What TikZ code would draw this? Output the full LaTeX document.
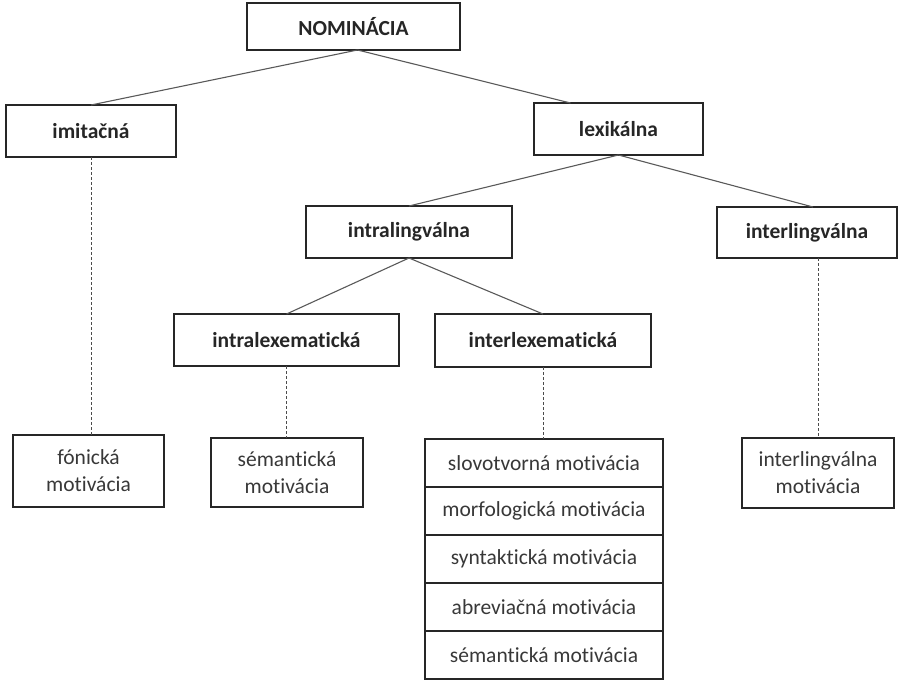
\documentclass[tikz,border=0pt]{standalone}
\usepackage{fontspec}
\setmainfont{Carlito}[Ligatures=NoCommon]
\usetikzlibrary{positioning}

\tikzset{
  catbox/.style={draw=black!85, line width=1.7pt, inner sep=0pt, outer sep=0pt,
    font=\fontsize{21.5}{25}\selectfont\bfseries, text=black!85},
  motbox/.style={draw=black!85, line width=1.7pt, inner sep=0pt, outer sep=0pt, align=center,
    font=\fontsize{21.5}{27}\selectfont, text=black!78},
  branch/.style={draw=black!65, line width=1.1pt},
  dotline/.style={draw=black!70, line width=0.9pt, dash pattern=on 3pt off 2pt},
}

\begin{document}
\begin{tikzpicture}[x=1pt,y=-1pt]
\useasboundingbox (0,0) rectangle (903,680);

% categories
\node[catbox, minimum width=213, minimum height=47] (nom) at (353.5,26.5) {NOMINÁCIA};
\node[catbox, minimum width=170, minimum height=52] (imit) at (91,131) {imitačná};
\node[catbox, minimum width=169, minimum height=52] (lex) at (618.5,129) {lexikálna};
\node[catbox, minimum width=206, minimum height=52] (intraling) at (409,232) {intralingválna};
\node[catbox, minimum width=180, minimum height=51] (interling) at (807,232.5) {interlingválna};
\node[catbox, minimum width=225, minimum height=52] (intralex) at (286.5,340) {intralexematická};
\node[catbox, minimum width=216, minimum height=53] (interlex) at (543,340.5) {interlexematická};

% motivations
\node[motbox, minimum width=151, minimum height=72] (fon) at (88.5,471) {fónická\\motivácia};
\node[motbox, minimum width=152, minimum height=69] (sem) at (287,472.5) {sémantická\\motivácia};
\node[motbox, minimum width=152, minimum height=70] (intmot) at (818,473) {interlingválna\\motivácia};

\node[motbox, minimum width=238, minimum height=48] (mot1) at (544,463) {slovotvorná motivácia};
\node[motbox, minimum width=238, minimum height=48, below=0pt of mot1] (mot2) {morfologická motivácia};
\node[motbox, minimum width=238, minimum height=48, below=0pt of mot2] (mot3) {syntaktická motivácia};
\node[motbox, minimum width=238, minimum height=48, below=0pt of mot3] (mot4) {abreviačná motivácia};
\node[motbox, minimum width=238, minimum height=48, below=0pt of mot4] (mot5) {sémantická motivácia};

% tree
\draw[branch] ([xshift=4]nom.south) -- (imit.north);
\draw[branch] ([xshift=4]nom.south) -- ([xshift=-48]lex.north);
\draw[branch] (lex.south) -- (intraling.north);
\draw[branch] (lex.south) -- ([xshift=6]interling.north);
\draw[branch] (intraling.south) -- (intralex.north);
\draw[branch] (intraling.south) -- (interlex.north);

% dashed links
\draw[dotline] (imit.south) -- (imit.south |- fon.north);
\draw[dotline] (intralex.south) -- (intralex.south |- sem.north);
\draw[dotline] (interlex.south) -- (interlex.south |- mot1.north);
\draw[dotline] (intmot.north |- interling.south) -- (intmot.north);
\end{tikzpicture}
\end{document}
